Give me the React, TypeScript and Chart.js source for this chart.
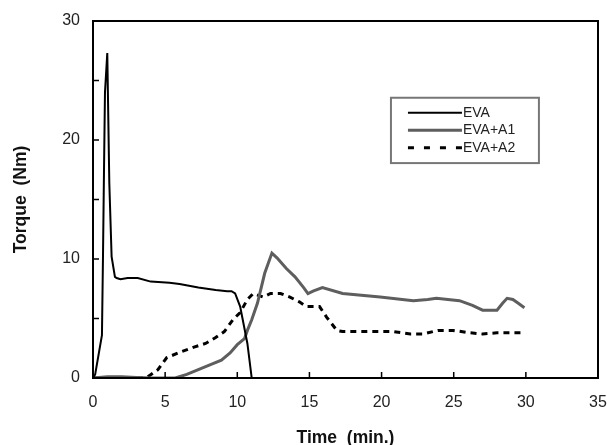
import React, { useEffect, useRef } from "react";
import { Chart, registerables } from "chart.js";

Chart.register(...registerables);

const evaTime = [0, 0.15, 0.62, 0.69, 0.76, 0.83, 0.99, 1.13, 1.29, 1.52, 1.64, 1.9, 2.4, 3.1, 4.0, 5.3, 6.0, 7.3, 8.5, 9.3, 9.6, 9.85, 10.2, 10.7, 11.0];
const evaTorque = [0, 0.3, 3.6, 10, 17.2, 24, 27.3, 16.4, 10.2, 8.5, 8.4, 8.3, 8.4, 8.4, 8.1, 8.0, 7.9, 7.6, 7.4, 7.3, 7.3, 7.1, 6.0, 2.9, 0];

const a1Time = [0, 1, 2, 3, 4, 5, 5.7, 6.5, 7.3, 8.1, 8.9, 9.5, 10.0, 10.5, 10.7, 11.0, 11.4, 11.9, 12.4, 12.75, 13.4, 14.0, 14.6, 14.9, 15.25, 15.9, 17.3, 19.9, 22.2, 23.2, 23.8, 25.4, 26.3, 27.0, 28.0, 28.4, 28.7, 29.1, 29.45, 29.9];
const a1Torque = [0, 0.1, 0.1, 0.05, 0, 0, 0, 0.3, 0.7, 1.1, 1.5, 2.1, 2.8, 3.3, 4.0, 4.9, 6.3, 8.8, 10.5, 10.1, 9.2, 8.5, 7.6, 7.1, 7.3, 7.6, 7.1, 6.8, 6.5, 6.6, 6.7, 6.5, 6.1, 5.7, 5.7, 6.3, 6.7, 6.6, 6.3, 5.9];

const a2Time = [0, 3.5, 3.8, 4.5, 5.1, 6.1, 7.0, 7.8, 8.5, 9.1, 9.7, 10.2, 10.7, 11.1, 11.8, 12.3, 13.0, 13.65, 14.3, 14.8, 15.7, 16.2, 16.9, 17.3, 19.9, 20.8, 22.0, 22.9, 23.9, 24.95, 26.1, 27.0, 28.0, 29.1, 29.7];
const a2Torque = [0, 0, 0.1, 0.7, 1.7, 2.2, 2.6, 2.9, 3.4, 3.9, 4.9, 5.5, 6.6, 7.1, 6.8, 7.1, 7.1, 6.8, 6.4, 6.0, 6.0, 5.1, 4.0, 3.9, 3.9, 3.9, 3.7, 3.7, 4.0, 4.0, 3.8, 3.7, 3.8, 3.8, 3.8];

const seriesNames = ["EVA", "EVA+A1", "EVA+A2"];
const xTickValues = [0, 5, 10, 15, 20, 25, 30, 35];
const yTickValues = [0, 5, 10, 15, 20, 25, 30];
const yLabelValues = [0, 10, 20, 30];

const FONT = "'Liberation Sans', Arial, sans-serif";
const GRAY = "#5e5e5e";

const toPoints = (xs: number[], ys: number[]) => xs.map((x, i) => ({ x, y: ys[i] }));

const framePlugin = {
  id: "frameAndTicks",
  afterDraw(chart: any) {
    const { ctx, chartArea: ca, scales } = chart;
    ctx.save();
    ctx.strokeStyle = "#000";
    ctx.lineWidth = 2;
    ctx.strokeRect(ca.left, ca.top, ca.right - ca.left, ca.bottom - ca.top);
    ctx.lineWidth = 1.5;
    ctx.beginPath();
    xTickValues.forEach((v) => {
      const px = scales.x.getPixelForValue(v);
      ctx.moveTo(px, ca.bottom);
      ctx.lineTo(px, ca.bottom - 6);
    });
    yTickValues.forEach((v) => {
      const py = scales.y.getPixelForValue(v);
      ctx.moveTo(ca.left, py);
      ctx.lineTo(ca.left + 6, py);
    });
    ctx.stroke();

    // legend box
    const w = ca.right - ca.left;
    const h = ca.bottom - ca.top;
    const bx = ca.left + w * 0.59;
    const by = ca.top + h * 0.215;
    const bw = w * 0.293;
    const bh = h * 0.183;
    ctx.strokeStyle = "#777";
    ctx.lineWidth = 2;
    ctx.strokeRect(bx, by, bw, bh);
    const styles = [
      { color: "#000", width: 2, dash: [] as number[] },
      { color: GRAY, width: 3, dash: [] as number[] },
      { color: "#000", width: 3, dash: [6, 10] },
    ];
    ctx.font = `14px ${FONT}`;
    ctx.textBaseline = "middle";
    ctx.textAlign = "left";
    seriesNames.forEach((name, i) => {
      const y = by + 15 + i * 17.5;
      const s = styles[i];
      ctx.strokeStyle = s.color;
      ctx.lineWidth = s.width;
      ctx.setLineDash(s.dash);
      ctx.beginPath();
      ctx.moveTo(bx + 17, y);
      ctx.lineTo(bx + 71, y);
      ctx.stroke();
      ctx.setLineDash([]);
      ctx.fillStyle = "#222";
      ctx.fillText(name, bx + 72, y);
    });
    ctx.restore();
  },
};

export default function App() {
  const ref = useRef<HTMLCanvasElement | null>(null);
  useEffect(() => {
    if (!ref.current) return;
    const chart = new Chart(ref.current, {
      type: "scatter",
      data: {
        datasets: [
          {
            label: seriesNames[0],
            data: toPoints(evaTime, evaTorque),
            showLine: true,
            borderColor: "#000",
            borderWidth: 2,
            pointRadius: 0,
          },
          {
            label: seriesNames[1],
            data: toPoints(a1Time, a1Torque),
            showLine: true,
            borderColor: GRAY,
            borderWidth: 3,
            pointRadius: 0,
          },
          {
            label: seriesNames[2],
            data: toPoints(a2Time, a2Torque),
            showLine: true,
            borderColor: "#000",
            borderWidth: 3,
            borderDash: [6, 5],
            pointRadius: 0,
          },
        ],
      },
      options: {
        animation: false,
        responsive: true,
        maintainAspectRatio: false,
        layout: { padding: { left: 0, top: 21, right: 9, bottom: 0 } },
        plugins: { legend: { display: false }, tooltip: { enabled: false } },
        scales: {
          x: {
            type: "linear",
            min: 0,
            max: 35,
            grid: { display: false, drawTicks: false },
            border: { display: false },
            ticks: {
              stepSize: 5,
              padding: 15,
              color: "#222",
              font: { family: FONT, size: 16 },
              maxRotation: 0,
            },
            title: {
              display: true,
              text: "Time  (min.)",
              color: "#111",
              font: { family: FONT, size: 17.5, weight: "bold" },
              padding: { top: 0, bottom: -4 },
            },
            afterFit: (scale: any) => {
              scale.height = 67;
              scale.paddingRight = 0;
              scale.paddingLeft = 0;
            },
          },
          y: {
            type: "linear",
            min: 0,
            max: 30,
            grid: { display: false, drawTicks: false },
            border: { display: false },
            afterBuildTicks: (scale: any) => {
              scale.ticks = yLabelValues.map((v) => ({ value: v }));
            },
            ticks: {
              padding: 13,
              color: "#222",
              font: { family: FONT, size: 16 },
            },
            title: {
              display: true,
              text: "Torque  (Nm)",
              color: "#111",
              font: { family: FONT, size: 17.5, weight: "bold" },
              padding: { top: 10.5, bottom: 0 },
            },
            afterFit: (scale: any) => {
              scale.width = 93;
              scale.paddingTop = 0;
              scale.paddingBottom = 0;
            },
          },
        },
      },
      plugins: [framePlugin],
    });
    return () => chart.destroy();
  }, []);
  return (
    <div style={{ position: "absolute", left: 0, top: 0, width: 607, height: 445, background: "#fff" }}>
      <canvas ref={ref} />
    </div>
  );
}
